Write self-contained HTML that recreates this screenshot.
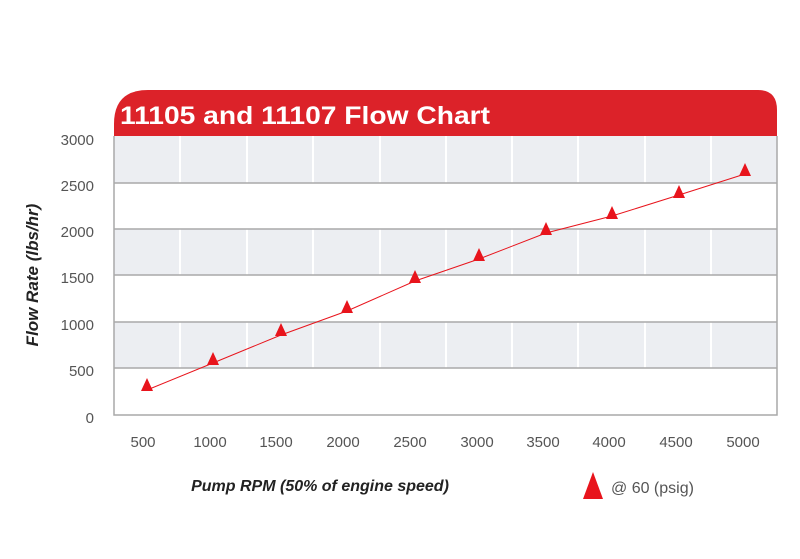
<!DOCTYPE html>
<html><head><style>body{margin:0;background:#fff}</style></head><body>
<svg width="800" height="554" xmlns="http://www.w3.org/2000/svg" font-family="Liberation Sans, sans-serif">
<rect width="800" height="554" fill="#fff"/>
<path d="M114,136 V124 Q114,90 148,90 H758 Q777,90 777,110 V136 Z" fill="#dc2229"/>
<text x="120" y="124" fill="#fff" font-size="25" font-weight="bold" textLength="370" lengthAdjust="spacingAndGlyphs">11105 and 11107 Flow Chart</text>
<g fill="#eceef2">
<rect x="114" y="136" width="663" height="47"/>
<rect x="114" y="229" width="663" height="46"/>
<rect x="114" y="322" width="663" height="46"/>
</g>
<g stroke="#fff" stroke-width="2">
<line x1="180" y1="136" x2="180" y2="415"/><line x1="247" y1="136" x2="247" y2="415"/><line x1="313" y1="136" x2="313" y2="415"/><line x1="380" y1="136" x2="380" y2="415"/><line x1="446" y1="136" x2="446" y2="415"/><line x1="512" y1="136" x2="512" y2="415"/><line x1="578" y1="136" x2="578" y2="415"/><line x1="645" y1="136" x2="645" y2="415"/><line x1="711" y1="136" x2="711" y2="415"/>
</g>
<g stroke="#a9a9a9" stroke-width="1.5" fill="none">
<line x1="114" y1="183" x2="777" y2="183"/><line x1="114" y1="229" x2="777" y2="229"/><line x1="114" y1="275" x2="777" y2="275"/><line x1="114" y1="322" x2="777" y2="322"/><line x1="114" y1="368" x2="777" y2="368"/>
<path d="M114,136 V415 H777 V136"/>
</g>
<g font-size="15" fill="#555" text-anchor="end">
<text x="94" y="145">3000</text><text x="94" y="191">2500</text><text x="94" y="237">2000</text><text x="94" y="283">1500</text><text x="94" y="330">1000</text><text x="94" y="376">500</text><text x="94" y="423">0</text>
</g>
<g font-size="15" fill="#555" text-anchor="middle">
<text x="143" y="447">500</text><text x="210" y="447">1000</text><text x="276" y="447">1500</text><text x="343" y="447">2000</text><text x="410" y="447">2500</text><text x="477" y="447">3000</text><text x="543" y="447">3500</text><text x="609" y="447">4000</text><text x="676" y="447">4500</text><text x="743" y="447">5000</text>
</g>
<text transform="translate(38,275) rotate(-90)" text-anchor="middle" font-size="17" font-weight="bold" font-style="italic" fill="#222">Flow Rate (lbs/hr)</text>
<text x="320" y="491" text-anchor="middle" font-size="16" font-weight="bold" font-style="italic" fill="#222">Pump RPM (50% of engine speed)</text>
<polygon points="583,499 603,499 593,472" fill="#e8141c"/>
<text x="611" y="493" font-size="16" fill="#555">@ 60 (psig)</text>
<polyline points="147,390 213,363 281,335 347,311 415,281 479,259 546,233 612,216 679,195 745,174" fill="none" stroke="#e8141c" stroke-width="1"/>
<g fill="#e8141c">
<polygon points="141,391 153,391 147,378"/><polygon points="207,365 219,365 213,352"/><polygon points="275,336 287,336 281,323"/><polygon points="341,313 353,313 347,300"/><polygon points="409,283 421,283 415,270"/><polygon points="473,261 485,261 479,248"/><polygon points="540,235 552,235 546,222"/><polygon points="606,219 618,219 612,206"/><polygon points="673,198 685,198 679,185"/><polygon points="739,176 751,176 745,163"/>
</g>
</svg>
</body></html>
